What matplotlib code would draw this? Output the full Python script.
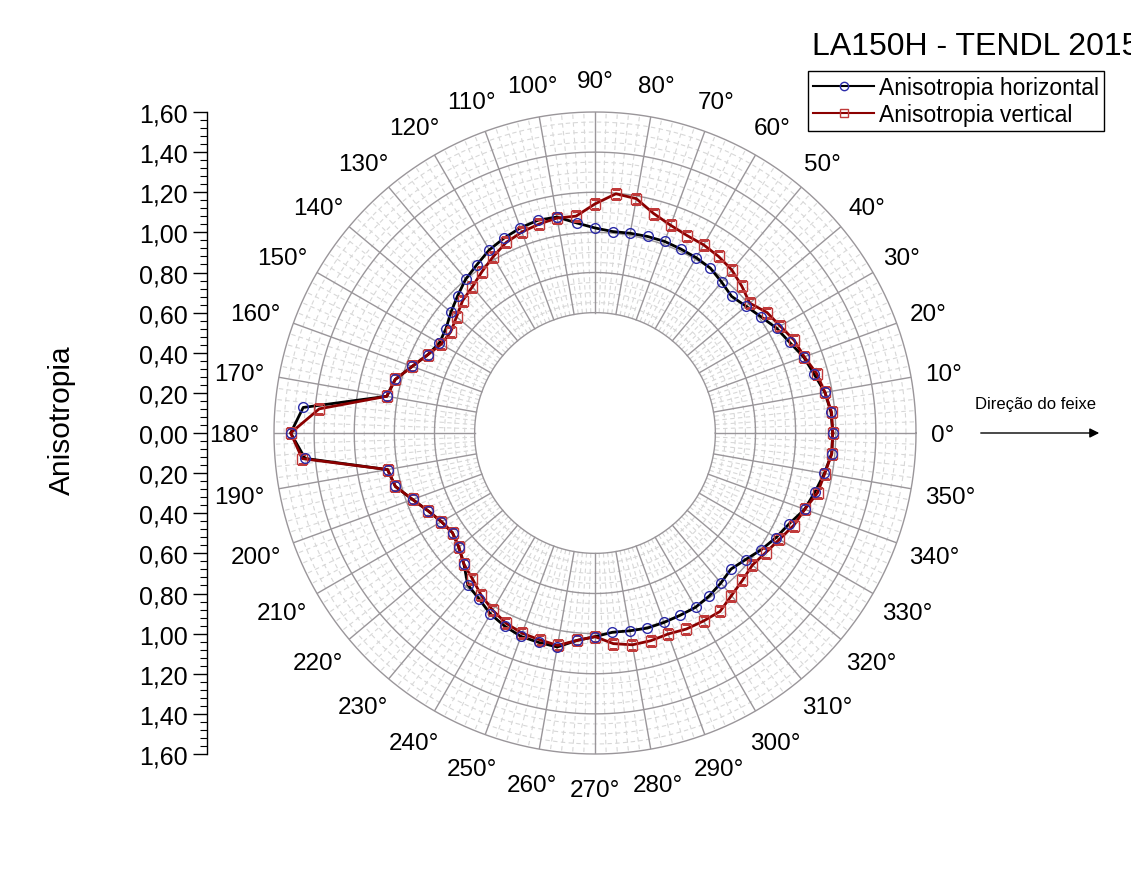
import numpy as np
import matplotlib
matplotlib.use("Agg")
from matplotlib import pyplot as plt
from matplotlib.lines import Line2D

plt.rcParams['font.family'] = ['Liberation Sans', 'DejaVu Sans']

# angles in degrees, one point every 5 degrees
angles = np.arange(0, 360, 5)

aniso_horizontal = [
    1.185, 1.181, 1.164, 1.131, 1.107, 1.070, 1.045, 1.010, 0.983, 0.963,
    0.982, 1.003, 1.009, 1.012, 1.016, 1.014, 1.011, 1.008, 1.022, 1.051,
    1.093, 1.098, 1.088, 1.072, 1.054, 1.025, 1.002, 0.968, 0.937, 0.907,
    0.896, 0.921, 0.970, 1.031, 1.054, 1.460, 1.517, 1.451, 1.050, 1.030,
    0.968, 0.918, 0.884, 0.867, 0.886, 0.924, 0.987, 1.009, 1.042, 1.063,
    1.079, 1.081, 1.083, 1.038, 1.015, 0.997, 1.001, 1.007, 1.005, 1.003,
    1.003, 0.992, 0.976, 0.959, 0.981, 1.013, 1.042, 1.069, 1.112, 1.135,
    1.161, 1.184,
]

aniso_vertical = [
    1.185, 1.184, 1.164, 1.144, 1.110, 1.095, 1.066, 1.047, 1.007, 1.035,
    1.061, 1.074, 1.083, 1.086, 1.102, 1.132, 1.186, 1.197, 1.142, 1.085,
    1.088, 1.078, 1.066, 1.048, 1.015, 0.982, 0.951, 0.933, 0.901, 0.878,
    0.885, 0.921, 0.970, 1.031, 1.054, 1.380, 1.517, 1.465, 1.050, 1.030,
    0.968, 0.918, 0.884, 0.867, 0.886, 0.924, 0.950, 0.988, 1.020, 1.047,
    1.062, 1.067, 1.075, 1.038, 1.015, 1.054, 1.072, 1.072, 1.066, 1.078,
    1.082, 1.086, 1.058, 1.039, 1.024, 1.039, 1.061, 1.092, 1.113, 1.149,
    1.163, 1.185,
]

label_angles = list(range(0, 360, 10))
angle_labels = [f"{a}°" for a in label_angles]
axis_ticks = np.round(np.arange(-1.6, 1.61, 0.2), 2)

W, H = 1131, 878
fig = plt.figure(figsize=(W / 100, H / 100), dpi=100)

# polar plot, centre at (595, 434) px, radius 321 px
cx, cy, R = 595, 434, 321
ax = fig.add_axes([(cx - R) / W, (H - cy - R) / H, 2 * R / W, 2 * R / H],
                  projection='polar')
ax.set_theta_zero_location('E')
ax.set_rlim(0, 1.6)
ax.grid(False)
ax.set_xticks([])
ax.set_yticks([])
ax.spines['polar'].set_visible(False)
ax.patch.set_alpha(0)

r_in, r_out = 0.6, 1.6
tt = np.linspace(0, 2 * np.pi, 721)

# minor grid
for r in np.arange(r_in, r_out, 0.05):
    if abs((r - r_in) / 0.2 - round((r - r_in) / 0.2)) > 1e-6:
        ax.plot(tt, np.full_like(tt, r), color='#d8d8d8', lw=0.8,
                ls=(0, (4, 3)), zorder=1)
for a in range(0, 360, 2):
    if a % 10:
        t = np.deg2rad(a)
        ax.plot([t, t], [r_in, r_out], color='#d8d8d8', lw=0.8,
                ls=(0, (4, 3)), zorder=1)

# major grid
for r in np.arange(r_in, r_out + 0.01, 0.2):
    ax.plot(tt, np.full_like(tt, r), color='#9a969a', lw=1.0, zorder=2,
            clip_on=False)
for a in range(0, 360, 10):
    t = np.deg2rad(a)
    ax.plot([t, t], [r_in, r_out], color='#9a969a', lw=1.0, zorder=2)

th = np.deg2rad(np.append(angles, 360))
h = np.append(aniso_horizontal, aniso_horizontal[0])
v = np.append(aniso_vertical, aniso_vertical[0])

ax.plot(th, h, color='black', lw=2, zorder=3)
ax.plot(th, v, color='#8b0000', lw=2, zorder=4)
ax.plot(th[:-1], v[:-1], ls='none', marker='s', ms=6.5, mfc='none',
        mec='#c03a3a', mew=1.0, zorder=5)
ax.plot(th[:-1], h[:-1], ls='none', marker='o', ms=7, mfc='none',
        mec='#2a2aa8', mew=1.0, zorder=6)

# angle labels just outside the outer ring, pushed out by half their size
em = 17.5 * 100 / 72
for a, lab in zip(label_angles, angle_labels):
    t = np.deg2rad(a)
    w = (0.556 * (len(lab) - 1) + 0.4) * em
    x = cx + (336 + w / 2) * np.cos(t)
    y = cy - (344 + 10.5) * np.sin(t) + 2.5
    fig.text(x / W, 1 - y / H, lab, ha='center', va='center', fontsize=17.5)

# linear scale on the left
ax2 = fig.add_axes([207 / W, (H - cy - R) / H, 0.001, 2 * R / H])
ax2.set_ylim(-1.6, 1.6)
ax2.set_xticks([])
ax2.set_yticks(axis_ticks)
ax2.set_yticklabels([f"{abs(t):.2f}".replace('.', ',') for t in axis_ticks])
ax2.set_yticks(np.arange(-1.6, 1.61, 0.04), minor=True)
ax2.tick_params(axis='y', which='major', length=10, width=1, labelsize=18,
                direction='out', pad=4)
ax2.tick_params(axis='y', which='minor', length=5, width=0.8, direction='out')
for s in ['top', 'right', 'bottom']:
    ax2.spines[s].set_visible(False)
ax2.spines['left'].set_linewidth(1)
ax2.patch.set_alpha(0)

fig.text(62 / W, 1 - 420 / H, 'Anisotropia', rotation=90, fontsize=21.5,
         ha='center', va='center')

fig.text(812 / W, 1 - 55 / H, 'LA150H - TENDL 2015', fontsize=23,
         ha='left', va='baseline')

fig.text(975 / W, 1 - 405 / H, 'Direção do feixe', fontsize=12,
         ha='left', va='center')
ax.annotate('', xy=(1102, H - 434), xytext=(978, H - 434),
            xycoords='figure pixels', textcoords='figure pixels',
            arrowprops=dict(arrowstyle='-|>', color='black', lw=1,
                            mutation_scale=14))

handles = [
    Line2D([], [], color='black', lw=1.5, marker='o', ms=6, mfc='none',
           mec='#2a2aa8'),
    Line2D([], [], color='#8b0000', lw=1.5, marker='s', ms=6, mfc='none',
           mec='#c03a3a'),
]
leg = ax.legend(handles, ['Anisotropia horizontal', 'Anisotropia vertical'],
                loc='upper left', bbox_to_anchor=(808 / W, 1 - 72 / H),
                bbox_transform=fig.transFigure, fancybox=False,
                edgecolor='black', framealpha=1, fontsize=16.5,
                borderpad=0.2, handlelength=2.7, handletextpad=0.2,
                labelspacing=0.2, numpoints=1, borderaxespad=0)
leg.get_frame().set_linewidth(1)

fig.savefig('out.png', dpi=100)
